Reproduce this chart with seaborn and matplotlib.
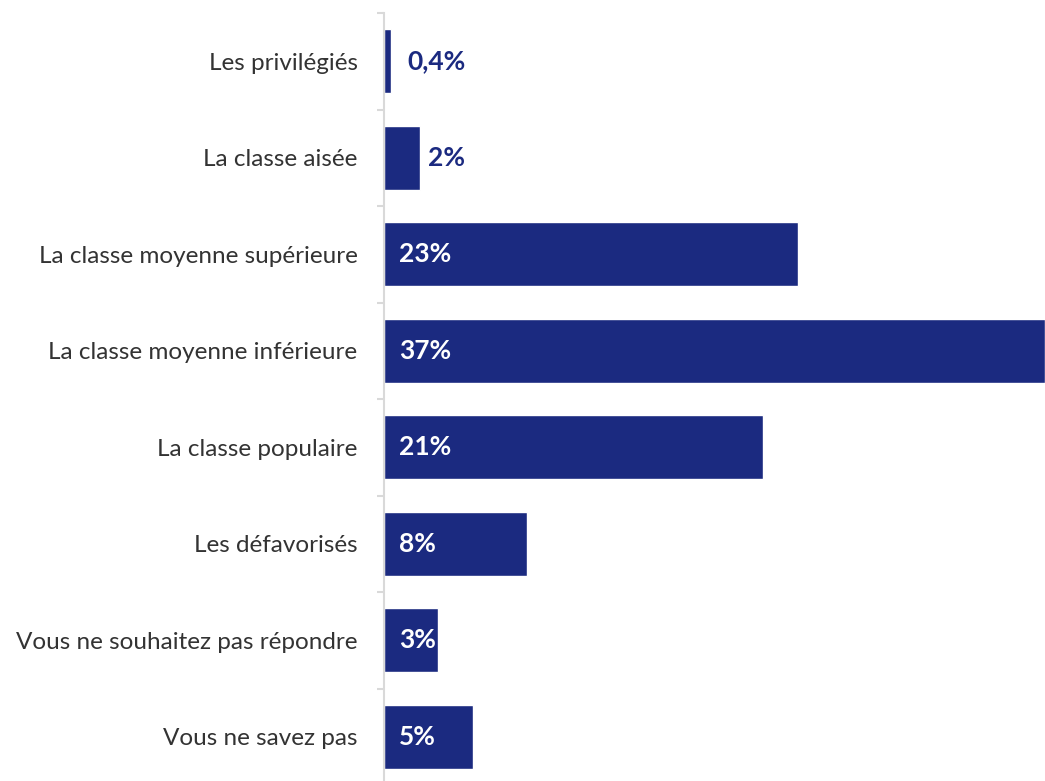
import pandas as pd
import seaborn as sns
import matplotlib.pyplot as plt
import numpy as np

# données
categories = ["Les privilégiés", "La classe aisée", "La classe moyenne supérieure",
              "La classe moyenne inférieure", "La classe populaire", "Les défavorisés",
              "Vous ne souhaitez pas répondre", "Vous ne savez pas"]
valeurs = [0.4, 2, 23.2, 37, 21.2, 8, 3, 5]
etiquettes = ["0,4%", "2%", "23%", "37%", "21%", "8%", "3%", "5%"]
# étiquette dans la barre (blanc) ou à côté (bleu)
dedans = [False, False, True, True, True, True, True, True]
decalage = [12, 6, 11, 11, 11, 11, 11, 11]

couleur = "#1B2A80"

df = pd.DataFrame({"cat": categories, "val": valeurs})

sns.set_style("white")
plt.rcParams['font.family'] = ['Lato', 'DejaVu Sans']

fig = plt.figure(figsize=(10.45, 7.81), dpi=100)
ax = fig.add_axes([384/1045, -4/781, 661/1045, 772/781])
sns.barplot(data=df, x="val", y="cat", color=couleur, saturation=1, width=0.66, ax=ax)

ax.set_xlim(0, 37)
ax.set_ylim(len(categories) - 0.5, -0.5)
ax.set_xlabel("")
ax.set_ylabel("")
ax.set_xticks([])

for s in ["top", "right", "bottom"]:
    ax.spines[s].set_visible(False)
ax.spines["left"].set_color("#D9D9D9")
ax.spines["left"].set_linewidth(1.5)

ax.tick_params(axis="y", which="major", left=True, length=0, pad=19, labelsize=17.5, labelcolor="#333333")
ax.set_yticks(np.arange(len(categories) + 1) - 0.5, minor=True)
ax.tick_params(axis="y", which="minor", left=True, length=5, width=1.5, color="#D9D9D9")

for i, (v, lab, d, o) in enumerate(zip(valeurs, etiquettes, dedans, decalage)):
    if d:
        ax.annotate(lab, (0, i), xytext=(o, 0), textcoords="offset points",
                    ha="left", va="center", color="white", fontsize=19, fontweight="bold")
    else:
        ax.annotate(lab, (v, i), xytext=(o, 0), textcoords="offset points",
                    ha="left", va="center", color=couleur, fontsize=19, fontweight="bold")

plt.savefig("out.png", dpi=100)
